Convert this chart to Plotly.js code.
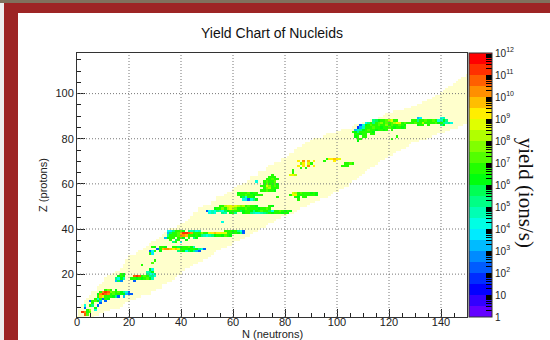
<!DOCTYPE html>
<html>
<head>
<meta charset="utf-8">
<script src="https://cdn.plot.ly/plotly-3.0.1.min.js"></script>
<style>
  html, body { margin: 0; padding: 0; }
  body { width: 550px; height: 340px; position: relative; overflow: hidden; background: #efefef; }
  .strip { position: absolute; }
  #plot { position: absolute; left: 18px; top: 13px; width: 532px; height: 327px; background: #fff; }
</style>
</head>
<body>
<div class="strip" style="left:0;top:0;width:550px;height:3px;background:#80715d"></div>
<div class="strip" style="left:4px;top:3px;width:546px;height:10px;background:#9d2525"></div>
<div class="strip" style="left:4px;top:3px;width:14px;height:337px;background:#9d2525"></div>
<div id="plot"></div>
<script>
// ---- chart extent ----
const N_LAST = 150;          // neutron number axis 0..150
const Z_FIRST = 1, Z_LAST = 118;

// ---- known-nuclide band: N range per Z, starting at Z = 1 ----
const bandZFirst = 1;
const bandNmin = [
  0, 1, 1, 1, 2, 2, 3, 3, 4, 5,
  6, 6, 8, 8, 9, 10, 11, 11, 12, 14,
  15, 17, 18, 18, 19, 19, 20, 20, 23, 24,
  26, 27, 28, 29, 31, 32, 33, 34, 35, 36,
  39, 40, 42, 43, 44, 45, 45, 47, 47, 49,
  52, 52, 54, 54, 57, 58, 60, 61, 62, 64,
  66, 67, 67, 70, 70, 73, 73, 74, 76, 79,
  79, 81, 82, 84, 84, 85, 87, 88, 90, 91,
  95, 96, 100, 102, 106, 107, 110, 113, 116, 118,
  119, 122, 126, 129, 131, 133, 135, 137, 138, 140,
  141, 142, 143, 145, 146, 147, 148, 150, 152, 153
];
const bandNmax = [
  6, 8, 10, 12, 16, 17, 18, 20, 22, 24,
  28, 28, 30, 32, 32, 34, 36, 37, 38, 40,
  40, 41, 43, 44, 46, 48, 50, 51, 52, 53,
  55, 57, 59, 60, 62, 64, 66, 67, 69, 70,
  72, 73, 75, 76, 78, 80, 83, 84, 85, 88,
  89, 91, 93, 96, 97, 98, 100, 102, 104, 104,
  105, 107, 108, 109, 110, 111, 112, 114, 115, 116,
  118, 119, 121, 122, 124, 126, 127, 128, 131, 134,
  136, 138, 141, 143, 146, 148, 150, 151, 152, 153,
  154, 155, 156, 157, 158, 159, 160, 161, 162, 163,
  164, 165, 166, 167, 168, 168, 169, 170, 171, 171
];

// ---- measured yields: each row is (Z, first N, log10 yield per consecutive N) ----
const rowZ = [
  2, 3, 4, 5, 6, 7, 8, 9, 10, 11, 12, 13,
  17, 17, 18, 18, 19, 19, 20, 20, 21, 22, 24, 25, 26,
  29, 30, 31, 32,
  34, 35, 36, 37, 38, 39,
  43, 47, 48, 49, 50,
  53, 53, 54, 54, 54, 55, 55, 56, 56,
  57, 58, 59, 60, 61, 62, 63, 64, 64, 65, 66,
  67, 68, 68, 69, 69, 70, 70, 71,
  79, 80, 80, 81, 81, 82, 83, 84, 85, 86, 87, 88,
  86, 87, 88, 89, 89
];
const rowN0 = [
  3, 2, 4, 3, 3, 6, 5, 7, 8, 8, 9, 11,
  15, 22, 15, 21, 16, 22, 17, 27, 27, 28, 25, 29, 30,
  28, 28, 31, 29,
  37, 36, 34, 35, 35, 35,
  56, 51, 50, 53, 55,
  64, 85, 63, 77, 84, 62, 82, 62, 83,
  71, 72, 71, 72, 69, 73, 74, 75, 82, 83, 83,
  86, 85, 102, 86, 103, 85, 99, 96,
  108, 108, 121, 107, 123, 107, 106, 107, 108, 109, 111, 114,
  131, 128, 129, 131, 140
];
const rowLogYield = [
  [10.5, 7.2],
  [11.2, 10.2, 6.7, 7.2],
  [6.7, 8.2, null, 4.2],
  [2.2, null, null, null, 6.2],
  [4.2, null, 6.8, 5.2, null, 2.3],
  [6.6, null, null, 2.2],
  [2.4, 6.8, 7.3, 6.2, 3.2, null, 2.2],
  [6.9, 4.2, 6.6, 2.4, 6.8, 6.2],
  [6.8, 9.8, 8.8, 6.8, 6.6, 6.9, 6.2, 5.2, 2.4, null, 3.1],
  [6.2, 10.3, 11.3, 10.8, 10.2, 6.8, 7.1, 6.9, 6.6, 6.2, 6.1, 3.2, 2.3, 2.1],
  [6.9, 10.1, 11.1, 10.6, 7.6, 7.1, 6.6, 7.0, 6.2, 5.2, 4.1, 2.2],
  [6.8, 7.8, 6.9, null, 6.1],
  [3.2, 5.6, 2.6],
  [2.4],
  [5.1, 4.4, 6.1, 4.6],
  [6.6, 6.9, 6.4, 6.9, 6.1, 6.6, 7.4, 6.1, 4.6],
  [6.4, 6.9, 6.1],
  [10.8, 11.4, 10.6, 6.9, 7.1, 6.6, 5.1, 5.4, 4.1],
  [6.9, 6.4],
  [5.1, 4.4, 4.1, 5.4],
  [4.6, 5.1, 6.4],
  [6.4, 4.1],
  [6.9],
  [7.1],
  [6.6],
  [6.6, 3.6],
  [2.4, 4.1, 6.6, null, 6.1, null, null, null, null, null, null, 5.1, 6.6, 6.1, 4.1, 5.6, 6.1, 5.1, 3.1, 2.4],
  [2.4, 6.9, 9.9, 10.4, 10.1, 9.8, 9.4, 9.9, 8.9, 6.9, 6.6, 6.9, 6.1, 6.6, 6.9, 6.4, 5.1, 4.1, 2.4],
  [6.9, 6.1, null, 6.6, 6.9, 6.4, null, null, 6.9, 6.6, 5.6, 6.1, 6.9, 6.6, 7.1, 6.1, 4.6],
  [5.1, 6.6, null, 4.1],
  [6.6, null, 5.6, 6.9, null, null, 6.4],
  [3.1, 6.1, 6.9, 6.6, null, 6.9, 7.1, 6.1, null, 6.6, null, 5.1, 6.1],
  [5.1, 6.9, 6.6, 6.9, 7.1, 10.4, 10.1, 9.6, 6.9, 6.6, 6.1, 6.9, 6.1, 5.1, 4.6, 4.1, 4.6, 5.1, 6.1, 6.6, 6.9, 6.1, 7.1, 6.6, 6.1],
  [3.1, 5.6, 6.9, 6.6, 7.1, 9.9, 11.1, 11.4, 10.6, 10.1, 6.9, 6.6, 6.9, 7.6, 6.6, 6.9, 8.6, 9.1, 9.6, 9.1, 9.4, 8.6, 8.9, 6.9, 6.6, 6.1, 6.6, 6.1, 5.1, 2.4],
  [4.1, 3.6, 5.1, 6.6, 6.9, 7.1, 6.1, null, 5.1, 4.6, 5.1, 4.1, 4.6, null, null, null, null, null, null, null, null, null, 6.6, 6.9, 6.6, 6.1, 6.9, 5.1, 4.1, 2.4],
  [4.1],
  [4.1, 4.6, 4.1, null, null, 5.1, 4.6, null, 6.1, 6.6, 5.1, null, null, 6.1, 6.9, 6.6, 5.1, 4.6, 4.1, 4.1, 4.6, 5.1, 5.6, 6.6, 6.1, 6.6, 6.9, 6.6, 6.1, 6.6, 6.1],
  [2.4, 4.1, 4.6, 4.1, 5.1, 4.6, 4.1, 5.6, 6.1, 6.6, 6.9, 6.6, 6.9, 5.6, 6.1, 6.6, 6.9, 6.1, 5.1, 6.1, 6.6, 7.1, 6.9, 6.6, 5.6, 4.1, 6.6, 6.9, 7.1, 6.6, 6.1, 6.6, 6.1],
  [6.1, 6.6, 6.9, 7.6, 6.9, 8.1, 8.6, 8.1, 7.6, 6.9, 6.6, 6.9, 7.1, 6.6, 6.9, 6.6, 6.9, 6.1, 6.6, 6.9, 7.1, 6.6],
  [6.6, 6.9, 8.1, 8.6, 8.6, 9.1, 8.6, 8.1, 7.6, 8.1, 6.9, 7.1, 6.6, 6.9, 6.1, null, null, null, null, 6.6, 6.1],
  [4.1, 3.6, 2.4, 4.1, 5.1, 6.1],
  [6.6],
  [6.1, 5.6, 4.1, 6.9, 6.6, 6.1],
  [6.9],
  [6.6, 6.1, null, 6.9, 6.6],
  [6.9, 6.6, 6.9, 7.1, 6.6, 6.9, 6.1, 6.6, 6.9, 6.6],
  [6.9, 8.6, 9.1, 6.9, 6.6, 6.9, 6.6, 6.6, 6.9, 6.6, 6.1],
  [6.1, 6.6, 6.9, 6.6, 7.1, 6.1, 6.9, 6.6],
  [8.6, 8.1, 6.9, 7.1, 6.6, 6.9, 6.6, 6.1, 6.9, 6.1],
  [6.6, 6.9, 7.1, 6.6, 6.9, 6.1],
  [6.9, 7.6, 8.1, 6.9, 6.6, 6.9],
  [6.6, 6.9, 8.6, 7.6, 6.9, 7.1, 6.6],
  [6.9, 7.6, 6.9, 6.6, 7.1, 6.1],
  [4.1, null, null, 6.9, 7.1, 6.6, 6.9, 7.1],
  [6.6, 6.9, 7.1, 6.6, 6.9],
  [6.9, 6.6, 6.9],
  [6.9],
  [8.6, 9.1, 8.1],
  [6.9],
  [6.6],
  [6.9, null, 6.6],
  [9.1, null, 9.1, null, 10.1, null, 9.1],
  [6.9, 6.6, 6.9],
  [7.6, 9.1, null, 8.6, 6.9],
  [6.6, 6.9, 7.1, 6.6],
  [9.1, null, 10.1, null, 9.6, null, 9.1, null, null, null, 6.9],
  [9.1],
  [6.9, 9.1, 9.1, 9.6, 9.1, 8.6],
  [6.1],
  [6.6, 6.9],
  [6.9],
  [6.1, 6.9, null, 6.6, 6.6],
  [6.6],
  [6.9, 6.6, 6.1, 6.9, 6.6, null, 6.9, 6.6],
  [6.6, 6.1, 5.1, 6.6, 6.9, 6.6, 6.9, 6.6, 6.1],
  [3.1, 4.6, 5.1, 6.1, 6.9, 7.1, 6.6, 6.9, 6.1, 6.9, 6.6, 6.1, 6.9, null, 6.6],
  [1.6, 3.1, 4.6, 6.9, 6.6, 6.9, 7.1, 6.6, 6.9, 6.1, 6.9, 6.6, 7.1, 6.6, 6.1, 6.9, 6.6, 6.1, 6.6],
  [2.1, 4.1, 6.1, 6.9, 7.1, 6.6, 6.9, 7.1, 6.6, 6.9, 7.6, 6.9, 7.1, 6.6, 6.9, 7.1, 6.6, 6.1],
  [4.1, 5.1, 6.6, 5.1, 6.9, 7.1, 7.6, 6.9, 7.1, 6.9, 7.1, 8.1, 9.1, 8.6, 6.9, 7.1, 6.6],
  [5.1, 5.6, 6.1, 6.6, 6.9, 7.1, 8.1, 8.6, 6.9, 6.6],
  [6.1, 6.6, 6.9, null, 6.6, null, null, null, null, 5.1, 6.1],
  [6.6, 6.9, 7.1, 6.6, 6.9, 8.1, 6.9, 6.6, 6.9, 6.6, 7.1, 6.1, 6.6, 5.1, 4.6, 5.1, 4.1],
  [6.6, 6.9, 5.1, 6.6, 6.9, 7.1, 6.6, 6.9, 7.1, 6.6, 4.1, 4.6, 6.1, 5.1],
  [3.1, 3.6],
  [4.1, 4.6]
];

// ---- tick labels ----
const xTickVals = [0, 20, 40, 60, 80, 100, 120, 140];
const yTickVals = [20, 40, 60, 80, 100];
const decades = [0, 1, 2, 3, 4, 5, 6, 7, 8, 9, 10, 11, 12];
const decadeLabels = ['1', '10', '10<sup>2</sup>', '10<sup>3</sup>', '10<sup>4</sup>', '10<sup>5</sup>',
  '10<sup>6</sup>', '10<sup>7</sup>', '10<sup>8</sup>', '10<sup>9</sup>', '10<sup>10</sup>',
  '10<sup>11</sup>', '10<sup>12</sup>'];

// ---- grids for the heatmaps ----
const nValues = Array.from({length: N_LAST + 1}, (_, i) => i);
const zValues = Array.from({length: Z_LAST - Z_FIRST + 1}, (_, i) => Z_FIRST + i);

const yieldGrid = zValues.map(() => nValues.map(() => null));
rowZ.forEach((z, r) => {
  rowLogYield[r].forEach((v, k) => {
    const n = rowN0[r] + k;
    if (v !== null && n <= N_LAST) yieldGrid[z - Z_FIRST][n] = v;
  });
});

const bandGrid = zValues.map(z => {
  const i = z - bandZFirst;
  return nValues.map(n => (i >= 0 && i < bandNmin.length && n >= bandNmin[i] && n <= bandNmax[i]) ? 1 : null);
});

// ---- 24-level rainbow palette (violet -> red), half a decade per level ----
const LEVELS = 24;
const levelColor = k => {
  const j = Math.floor((k + 0.99) * 50 / LEVELS);
  const hue = j >= 49 ? 0 : 280 - (j + 1) * 5.6;
  return `hsl(${hue.toFixed(1)},100%,50%)`;
};
const yieldScale = [];
for (let k = 0; k < LEVELS; k++) {
  yieldScale.push([k / LEVELS, levelColor(k)]);
  yieldScale.push([(k + 1) / LEVELS, levelColor(k)]);
}

// colour-bar ticks: decades labelled, log sub-divisions unlabelled
const cbTickVals = [], cbTickText = [];
decades.forEach((d, i) => {
  cbTickVals.push(d); cbTickText.push(decadeLabels[i]);
  if (d < 12) for (let m = 2; m <= 9; m++) { cbTickVals.push(d + Math.log10(m)); cbTickText.push(''); }
});

const FONT = 'Liberation Sans, Arial, sans-serif';

const traces = [
  {
    type: 'heatmap', x: nValues, y: zValues, z: bandGrid,
    colorscale: [[0, 'rgb(255,255,204)'], [1, 'rgb(255,255,204)']],
    showscale: false, hoverinfo: 'skip', zsmooth: false
  },
  {
    type: 'heatmap', x: nValues, y: zValues, z: yieldGrid,
    zmin: 0, zmax: 12, colorscale: yieldScale, zsmooth: false,
    colorbar: {
      x: 1.005, xanchor: 'left', y: 0.5, yanchor: 'middle',
      len: 1, lenmode: 'fraction', thickness: 23, thicknessmode: 'pixels',
      xpad: 0, ypad: 0, outlinewidth: 1, outlinecolor: '#333',
      tickmode: 'array', tickvals: cbTickVals, ticktext: cbTickText,
      ticks: 'inside', ticklen: 6, tickcolor: '#000', tickwidth: 1,
      ticklabelstandoff: 3,
      tickfont: {family: FONT, size: 10, color: '#222'}
    }
  }
];

const gridLine = {color: '#777', width: 1, dash: '1px,2px'};
const shapes = [
  ...xTickVals.filter(v => v > 0).map(v => ({type: 'line', xref: 'x', yref: 'paper', x0: v, x1: v, y0: 0, y1: 1, line: gridLine, layer: 'above'})),
  ...yTickVals.map(v => ({type: 'line', xref: 'paper', yref: 'y', x0: 0, x1: 1, y0: v, y1: v, line: gridLine, layer: 'above'}))
];

const layout = {
  width: 532, height: 327,
  margin: {l: 59, r: 83, t: 40, b: 23},
  paper_bgcolor: '#fff', plot_bgcolor: '#fff',
  font: {family: FONT, color: '#222'},
  title: {
    text: 'Yield Chart of Nucleids', x: 0.5, xref: 'paper', xanchor: 'center',
    y: 1 - 20 / 327, yref: 'container', yanchor: 'middle',
    font: {family: FONT, size: 14, color: '#111'}
  },
  xaxis: {
    range: [0, N_LAST], tickmode: 'array', tickvals: xTickVals,
    ticks: 'inside', ticklen: 8, tickcolor: '#222', ticklabelstandoff: -5,
    minor: {tickmode: 'linear', tick0: 0, dtick: 5, ticks: 'inside', ticklen: 4, tickcolor: '#222', showgrid: false},
    showgrid: false, zeroline: false, showline: true, mirror: true, linecolor: '#333', linewidth: 1,
    tickfont: {family: FONT, size: 11, color: '#222'},
    automargin: false, layer: 'above traces', fixedrange: true
  },
  yaxis: {
    range: [Z_FIRST, Z_LAST], tickmode: 'array', tickvals: yTickVals,
    ticks: 'inside', ticklen: 8, tickcolor: '#222',
    minor: {tickmode: 'linear', tick0: 0, dtick: 5, ticks: 'inside', ticklen: 4, tickcolor: '#222', showgrid: false},
    showgrid: false, zeroline: false, showline: true, mirror: true, linecolor: '#333', linewidth: 1,
    tickfont: {family: FONT, size: 11, color: '#222'},
    title: {text: 'Z (protons)', font: {family: FONT, size: 11, color: '#222'}, standoff: 5},
    automargin: false, layer: 'above traces', fixedrange: true
  },
  shapes: shapes,
  annotations: [
    {
      // x-axis title, set just under the tick labels at the bottom edge
      text: 'N (neutrons)', xref: 'paper', yref: 'paper',
      x: 0.5, y: -0.066, xanchor: 'center', yanchor: 'middle',
      showarrow: false, font: {family: FONT, size: 11, color: '#222'}
    },
    {
      text: 'yield (ions/s)', xref: 'paper', yref: 'paper',
      x: 1.152, y: 0.47, xanchor: 'center', yanchor: 'middle',
      textangle: 90, showarrow: false,
      font: {family: 'Liberation Serif, Times New Roman, serif', size: 21, color: '#111'}
    }
  ]
};

Plotly.newPlot('plot', traces, layout, {staticPlot: true, displayModeBar: false});
</script>
</body>
</html>
